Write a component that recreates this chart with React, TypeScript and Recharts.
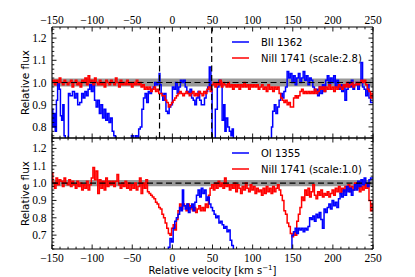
import React from 'react';
import { LineChart, Line, XAxis, YAxis, ReferenceArea, ReferenceLine, Legend } from 'recharts';

// ─── Data ──────────────────────────────────────────────────────────────────
// NiII 1741 grid: -150 … 250 km/s in 2 km/s bins
const NI_VEL = [
  -150, -148, -146, -144, -142, -140, -138, -136, -134, -132,
  -130, -128, -126, -124, -122, -120, -118, -116, -114, -112,
  -110, -108, -106, -104, -102, -100, -98, -96, -94, -92,
  -90, -88, -86, -84, -82, -80, -78, -76, -74, -72,
  -70, -68, -66, -64, -62, -60, -58, -56, -54, -52,
  -50, -48, -46, -44, -42, -40, -38, -36, -34, -32,
  -30, -28, -26, -24, -22, -20, -18, -16, -14, -12,
  -10, -8, -6, -4, -2, 0, 2, 4, 6, 8,
  10, 12, 14, 16, 18, 20, 22, 24, 26, 28,
  30, 32, 34, 36, 38, 40, 42, 44, 46, 48,
  50, 52, 54, 56, 58, 60, 62, 64, 66, 68,
  70, 72, 74, 76, 78, 80, 82, 84, 86, 88,
  90, 92, 94, 96, 98, 100, 102, 104, 106, 108,
  110, 112, 114, 116, 118, 120, 122, 124, 126, 128,
  130, 132, 134, 136, 138, 140, 142, 144, 146, 148,
  150, 152, 154, 156, 158, 160, 162, 164, 166, 168,
  170, 172, 174, 176, 178, 180, 182, 184, 186, 188,
  190, 192, 194, 196, 198, 200, 202, 204, 206, 208,
  210, 212, 214, 216, 218, 220, 222, 224, 226, 228,
  230, 232, 234, 236, 238, 240, 242, 244, 246, 248,
  250,
];

// NiII 1741, scaled by 2.8 (upper panel)
const NI_FLUX_28 = [
  1.00, 1.01, 0.99, 1.01, 1.00, 1.02, 1.00, 0.99, 1.01, 1.00,
  0.99, 1.00, 1.01, 0.98, 1.00, 1.01, 0.99, 1.00, 0.98, 1.01,
  1.00, 1.02, 0.99, 1.03, 1.00, 1.01, 0.99, 1.02, 1.00, 0.99,
  1.01, 0.99, 1.00, 0.98, 1.01, 1.00, 0.99, 1.01, 1.00, 0.99,
  1.02, 1.00, 0.98, 1.01, 0.99, 1.00, 0.99, 1.01, 0.99, 1.00,
  0.98, 1.00, 0.99, 1.01, 0.99, 1.00, 0.98, 0.99, 0.97, 0.98,
  0.97, 0.98, 0.96, 0.97, 0.98, 0.96, 0.97, 0.95, 0.95, 0.94,
  0.94, 0.92, 0.91, 0.89, 0.90, 0.91, 0.92, 0.93, 0.94, 0.95,
  0.96, 0.95, 0.94, 0.95, 0.96, 0.95, 0.94, 0.95, 0.96, 0.94,
  0.95, 0.94, 0.96, 0.95, 0.94, 0.96, 0.95, 0.97, 0.98, 0.96,
  0.99, 1.00, 0.98, 1.00, 0.99, 1.01, 0.98, 1.00, 0.99, 0.98,
  1.00, 0.98, 0.99, 0.97, 0.99, 0.98, 0.99, 0.97, 0.99, 0.98,
  1.00, 0.98, 0.99, 0.97, 0.99, 0.98, 0.99, 0.98, 0.99, 0.97,
  0.98, 0.99, 0.97, 0.98, 0.96, 0.99, 0.97, 0.98, 0.96, 0.98,
  0.97, 0.98, 0.95, 0.93, 0.92, 0.91, 0.92, 0.90, 0.91, 0.89,
  0.89, 0.93, 0.94, 0.93, 0.94, 0.96, 0.97, 0.95, 0.96, 0.95,
  0.96, 0.95, 0.96, 0.95, 0.97, 0.95, 0.96, 0.98, 0.97, 0.98,
  0.96, 0.98, 0.97, 0.99, 0.97, 0.98, 0.96, 0.98, 0.97, 0.99,
  0.98, 0.97, 0.99, 0.98, 1.00, 0.98, 0.99, 1.00, 0.98, 0.99,
  1.00, 0.99, 1.00, 1.01, 1.00, 1.01, 0.99, 0.97, 0.96, 0.93,
  0.95,
];

// NiII 1741, unscaled (lower panel)
const NI_FLUX_10 = [
  1.06, 1.00, 0.97, 1.03, 0.99, 1.02, 1.01, 0.98, 1.03, 1.00,
  0.99, 1.02, 0.98, 1.01, 0.99, 0.97, 1.01, 0.98, 1.00, 0.96,
  0.99, 0.97, 1.01, 0.96, 0.99, 1.03, 1.09, 1.02, 1.07, 0.94,
  1.02, 0.97, 1.01, 0.96, 1.03, 0.98, 1.01, 0.99, 1.01, 0.98,
  1.01, 1.05, 0.99, 0.97, 1.00, 0.98, 1.01, 0.97, 1.00, 0.96,
  0.99, 0.97, 1.00, 0.96, 0.98, 1.03, 0.94, 1.00, 0.97, 1.02,
  0.95, 0.94, 0.93, 0.92, 0.91, 0.89, 0.88, 0.86, 0.85, 0.82,
  0.80, 0.77, 0.74, 0.71, 0.70, 0.74, 0.76, 0.73, 0.79, 0.84,
  0.88, 0.85, 0.88, 0.87, 0.84, 0.88, 0.85, 0.87, 0.84, 0.86,
  0.83, 0.85, 0.87, 0.84, 0.86, 0.84, 0.88, 0.86, 0.93, 0.97,
  0.99, 0.96, 1.00, 0.97, 1.01, 0.98, 1.00, 0.97, 1.03, 0.98,
  0.99, 0.96, 0.99, 0.97, 1.00, 0.95, 0.99, 0.97, 0.94, 0.98,
  0.96, 1.00, 0.97, 0.95, 0.99, 0.96, 0.98, 0.94, 0.97, 0.95,
  0.96, 0.93, 0.97, 0.94, 0.98, 0.95, 0.97, 0.94, 0.98, 0.95,
  0.97, 0.99, 0.96, 0.93, 0.90, 0.84, 0.82, 0.77, 0.75, 0.71,
  0.69, 0.72, 0.70, 0.78, 0.82, 0.86, 0.92, 0.90, 0.96, 0.93,
  0.97, 0.92, 0.95, 0.99, 0.93, 0.91, 0.95, 0.93, 0.96, 0.92,
  0.94, 0.93, 0.95, 0.92, 0.94, 0.96, 0.93, 0.97, 0.95, 0.98,
  0.94, 0.97, 0.95, 0.98, 0.96, 0.99, 0.95, 0.98, 0.96, 1.00,
  0.97, 0.99, 0.95, 0.98, 0.96, 0.99, 0.97, 0.99, 0.90, 0.84,
  0.88,
];

// BII 1362 (upper panel); values under 0.75 run off the bottom of the panel
const BII_VEL = [
  -150, -148, -147, -145, -144, -142, -140, -139, -137, -136,
  -134, -133, -130, -129, -126, -123, -121, -119, -117, -114,
  -112, -110, -108, -106, -104, -102, -100, -98, -96, -94,
  -92, -90, -88, -86, -84, -82, -80, -78, -76, -74,
  -72, -70, -52, -50, -47, -45, -43, -41, -39, -37,
  -35, -33, -31, -29, -27, -25, -23, -21, -19, -17,
  -16, -15, -13, -11, -9, -7, -5, -3, -1, 1,
  3, 5, 7, 9, 11, 13, 15, 17, 19, 21,
  23, 25, 27, 29, 31, 33, 35, 37, 39, 41,
  43, 45, 47, 49, 50, 52, 55, 57, 59, 61,
  63, 65, 66, 68, 70, 72, 74, 75, 77, 123,
  124, 126, 128, 130, 132, 134, 136, 138, 140, 142,
  144, 146, 148, 150, 152, 154, 156, 158, 160, 162,
  164, 166, 168, 170, 172, 174, 176, 178, 180, 182,
  184, 186, 188, 190, 192, 194, 196, 198, 200, 202,
  204, 206, 208, 210, 212, 214, 216, 218, 220, 222,
  224, 226, 228, 230, 232, 234, 236, 238, 240, 242,
  244, 246, 248, 250,
];
const BII_FLUX = [
  0.88, 0.80, 0.86, 0.78, 0.92, 1.00, 0.97, 0.85, 0.83, 0.90,
  0.76, 0.70, 0.70, 0.95, 0.94, 0.96, 0.93, 0.95, 0.90, 0.91,
  0.95, 0.93, 0.96, 0.94, 0.97, 0.99, 0.96, 1.00, 0.92, 0.89,
  0.92, 0.86, 0.90, 0.84, 0.88, 0.83, 0.86, 0.82, 0.84, 0.78,
  0.76, 0.70, 0.70, 0.76, 0.74, 0.76, 0.70, 0.79, 0.80, 0.88,
  0.93, 0.95, 0.91, 0.96, 0.95, 0.97, 0.98, 1.00, 0.99, 1.00,
  1.04, 0.99, 0.95, 0.92, 0.95, 0.87, 0.86, 0.89, 0.90, 0.98,
  0.97, 1.00, 0.95, 0.98, 1.01, 1.00, 1.01, 0.98, 0.96, 0.95,
  0.97, 0.93, 0.92, 0.90, 0.93, 0.96, 0.92, 0.90, 0.90, 0.93,
  0.96, 0.98, 1.07, 0.97, 0.70, 0.70, 0.88, 0.98, 1.01, 0.99,
  0.83, 0.90, 0.78, 0.84, 0.80, 0.78, 0.76, 0.79, 0.70, 0.70,
  0.80, 0.87, 0.90, 0.86, 0.89, 0.92, 0.95, 0.93, 0.96, 0.98,
  1.05, 1.02, 1.04, 1.00, 1.03, 0.99, 1.02, 1.04, 1.00, 1.02,
  1.05, 1.01, 1.03, 0.99, 1.02, 1.01, 0.98, 0.96, 0.97, 0.94,
  0.98, 0.95, 0.99, 0.96, 1.01, 1.03, 0.99, 1.02, 1.00, 1.03,
  0.98, 1.01, 0.97, 0.99, 0.96, 0.99, 0.92, 0.97, 1.00, 0.98,
  1.01, 0.97, 0.99, 1.00, 0.97, 1.00, 1.09, 0.98, 0.97, 0.94,
  0.99, 0.93, 0.91, 0.91,
];

// OI 1355 (lower panel); values under 0.62 run off the bottom
const OI_VEL = [
  -8, -6, -4, -2, 0, 2, 4, 6, 8, 10,
  12, 13, 15, 17, 19, 21, 23, 25, 27, 29,
  31, 33, 35, 37, 39, 41, 43, 45, 47, 49,
  51, 53, 55, 57, 59, 61, 63, 65, 67, 69,
  71, 73, 75, 77, 148, 150, 152, 154, 156, 158,
  160, 162, 164, 166, 168, 170, 172, 174, 176, 178,
  180, 182, 184, 186, 188, 190, 192, 194, 196, 198,
  200, 202, 204, 206, 208, 210, 212, 214, 216, 218,
  220, 222, 224, 226, 228, 230, 232, 234, 236, 238,
  240, 242, 244, 246, 248, 250,
];
const OI_FLUX = [
  0.58, 0.60, 0.63, 0.68, 0.66, 0.74, 0.78, 0.80, 0.82, 0.86,
  0.84, 0.96, 0.87, 0.85, 0.88, 0.83, 0.86, 0.88, 0.84, 0.89,
  0.93, 0.96, 0.92, 0.97, 0.94, 0.96, 0.90, 0.92, 0.88, 0.86,
  0.84, 0.82, 0.80, 0.81, 0.77, 0.78, 0.76, 0.74, 0.75, 0.72,
  0.73, 0.67, 0.64, 0.58, 0.58, 0.70, 0.72, 0.74, 0.71, 0.74,
  0.73, 0.74, 0.72, 0.74, 0.73, 0.75, 0.80, 0.79, 0.81, 0.78,
  0.82, 0.80, 0.83, 0.79, 0.74, 0.85, 0.83, 0.86, 0.88, 0.85,
  0.90, 0.87, 0.89, 0.86, 0.91, 0.94, 0.92, 0.96, 0.93, 0.98,
  0.95, 0.97, 0.93, 0.96, 0.99, 0.96, 1.01, 0.98, 1.02, 0.99,
  1.03, 1.00, 0.98, 1.02, 1.03, 1.03,
];

// Ticks
const X_MAJOR = [-150, -100, -50, 0, 50, 100, 150, 200, 250];
const Y_MAJOR_TOP = [0.8, 0.9, 1.0, 1.1, 1.2];
const Y_MAJOR_BOTTOM = [0.7, 0.8, 0.9, 1.0, 1.1, 1.2];
const VLINES = [-16, 49];

const BLUE = '#0000ff';
const RED = '#ff0000';
const FONT_SERIF = '"Liberation Serif", "DejaVu Serif", serif';
const FONT_SANS = '"DejaVu Sans", sans-serif';

const range = (from: number, to: number, step: number) => {
  const out: number[] = [];
  for (let v = from; v <= to + step / 2; v += step) out.push(Math.round(v * 100) / 100);
  return out;
};
const X_MINOR = range(-150, 250, 10);
const Y_MINOR_TOP = range(0.76, 1.24, 0.02);
const Y_MINOR_BOTTOM = range(0.62, 1.26, 0.02);

const zip = (v: number[], f: number[]) => v.map((x, i) => ({ v: x, f: f[i] }));

const isOn = (vals: number[], v: number) => vals.some((m) => Math.abs(m - v) < 1e-6);
const fmtX = (v: number) => (v < 0 ? `\u2212${Math.abs(v)}` : `${v}`);

// ─── Tick renderers (inward ticks, matplotlib style) ──────────────────────
const xTick = (side: 'top' | 'bottom', labels: boolean) => (props: any) => {
  const { x, y, payload } = props;
  const major = isOn(X_MAJOR, payload.value);
  const len = major ? 4.5 : 2.3;
  const dir = side === 'top' ? 1 : -1;
  return (
    <g>
      <line x1={x} x2={x} y1={y} y2={y + dir * len} stroke="#000" strokeWidth={0.9} />
      {labels && major && (
        <text
          x={x}
          y={side === 'top' ? y - 3.5 : y + 12.5}
          textAnchor="middle"
          fontFamily={FONT_SERIF}
          fontSize={11.5}
          fill="#000"
        >
          {fmtX(payload.value)}
        </text>
      )}
    </g>
  );
};

const yTick = (side: 'left' | 'right', majors: number[]) => (props: any) => {
  const { x, y, payload } = props;
  const major = isOn(majors, payload.value);
  const len = major ? 4.5 : 2.3;
  const dir = side === 'left' ? 1 : -1;
  return (
    <g>
      <line x1={x} x2={x + dir * len} y1={y} y2={y} stroke="#000" strokeWidth={0.9} />
      {side === 'left' && major && (
        <text x={x - 5.5} y={y + 4} textAnchor="end" fontFamily={FONT_SERIF} fontSize={11.5} fill="#000">
          {payload.value.toFixed(1)}
        </text>
      )}
    </g>
  );
};

const FluxTitle = (props: any) => {
  const { viewBox } = props;
  const cx = viewBox.x + viewBox.width - 23;
  const cy = viewBox.y + viewBox.height / 2;
  return (
    <text
      x={cx}
      y={cy}
      transform={`rotate(-90 ${cx} ${cy})`}
      textAnchor="middle"
      fontFamily={FONT_SANS}
      fontSize={10.5}
      fill="#000"
    >
      Relative flux
    </text>
  );
};

const VelocityTitle = (props: any) => {
  const { viewBox } = props;
  return (
    <text
      x={viewBox.x + viewBox.width / 2}
      y={viewBox.y + 25}
      textAnchor="middle"
      fontFamily={FONT_SANS}
      fontSize={10}
      fill="#000"
    >
      Relative velocity [km s
      <tspan dy={-4} fontSize={7}>{'\u22121'}</tspan>
      <tspan dy={4}>]</tspan>
    </text>
  );
};

interface LegendItem {
  name: string;
  color: string;
}

const LegendBox = ({ items }: { items: LegendItem[] }) => (
  <div style={{ fontFamily: FONT_SANS, fontSize: 10, color: '#000' }}>
    {items.map((it) => (
      <div key={it.name} style={{ display: 'flex', alignItems: 'center', height: 16 }}>
        <svg width={17} height={16} style={{ display: 'block' }}>
          <line x1={0} x2={17} y1={8} y2={8} stroke={it.color} strokeWidth={1.5} />
        </svg>
        <span style={{ marginLeft: 12, whiteSpace: 'nowrap' }}>{it.name}</span>
      </div>
    ))}
  </div>
);

// ─── Panel ─────────────────────────────────────────────────────────────────
interface PanelProps {
  margin: { top: number; right: number; bottom: number; left: number };
  yDomain: [number, number];
  yMajor: number[];
  yMinor: number[];
  series: { name: string; color: string; data: { v: number; f: number }[] }[];
  legend: LegendItem[];
  legendTop: number;
  topLabels: boolean;
  vlines: number[];
}

// axes are 1px thick so they still render; the margins below account for that
const Panel = ({ margin, yDomain, yMajor, yMinor, series, legend, legendTop, topLabels, vlines }: PanelProps) => (
  <LineChart width={415} height={277} margin={margin}>
    <XAxis
      xAxisId="b"
      type="number"
      dataKey="v"
      orientation="bottom"
      domain={[-150, 250]}
      allowDataOverflow
      ticks={X_MINOR}
      interval={0}
      height={1}
      tickSize={0}
      tickMargin={0}
      tickLine={false}
      axisLine={{ stroke: '#000', strokeWidth: 1.1 }}
      tick={xTick('bottom', !topLabels)}
      label={topLabels ? undefined : <VelocityTitle />}
    />
    <XAxis
      xAxisId="t"
      type="number"
      dataKey="v"
      orientation="top"
      domain={[-150, 250]}
      allowDataOverflow
      ticks={X_MINOR}
      interval={0}
      height={1}
      tickSize={0}
      tickMargin={0}
      tickLine={false}
      axisLine={{ stroke: '#000', strokeWidth: 1.1 }}
      tick={xTick('top', topLabels)}
    />
    <YAxis
      yAxisId="l"
      type="number"
      orientation="left"
      domain={yDomain}
      allowDataOverflow
      ticks={yMinor}
      interval={0}
      width={1}
      tickSize={0}
      tickMargin={0}
      tickLine={false}
      axisLine={{ stroke: '#000', strokeWidth: 1.1 }}
      tick={yTick('left', yMajor)}
      label={<FluxTitle />}
    />
    <YAxis
      yAxisId="r"
      type="number"
      orientation="right"
      domain={yDomain}
      allowDataOverflow
      ticks={yMinor}
      interval={0}
      width={1}
      tickSize={0}
      tickMargin={0}
      tickLine={false}
      axisLine={{ stroke: '#000', strokeWidth: 1.1 }}
      tick={yTick('right', yMajor)}
    />
    <ReferenceArea xAxisId="b" yAxisId="l" y1={0.982} y2={1.018} fill="#808080" fillOpacity={0.8} stroke="none" />
    {series.map((s) => (
      <Line
        key={s.name}
        xAxisId="b"
        yAxisId="l"
        data={s.data}
        dataKey="f"
        name={s.name}
        type="step"
        stroke={s.color}
        strokeWidth={1.5}
        dot={false}
        activeDot={false}
        isAnimationActive={false}
      />
    ))}
    <ReferenceLine xAxisId="b" yAxisId="l" y={1} stroke="#000" strokeWidth={1.2} strokeDasharray="6 3.5" />
    {vlines.map((v) => (
      <ReferenceLine key={v} xAxisId="b" yAxisId="l" x={v} stroke="#000" strokeWidth={1.2} strokeDasharray="6 3.5" />
    ))}
    <Legend
      layout="vertical"
      align="center"
      verticalAlign="middle"
      content={() => <LegendBox items={legend} />}
      wrapperStyle={{ position: 'absolute', left: 232, top: legendTop, width: 'auto', height: 'auto' }}
    />
  </LineChart>
);

export default function App() {
  const bii = zip(BII_VEL, BII_FLUX);
  const ni28 = zip(NI_VEL, NI_FLUX_28);
  const ni10 = zip(NI_VEL, NI_FLUX_10);
  const oi = zip(OI_VEL, OI_FLUX);

  return (
    <div style={{ position: 'absolute', left: 0, top: 0, width: 415, height: 277, background: '#fff' }}>
      <div style={{ position: 'absolute', left: 0, top: 0 }}>
        <Panel
          margin={{ top: 26, right: 41, bottom: 138, left: 51 }}
          yDomain={[0.75, 1.25]}
          yMajor={Y_MAJOR_TOP}
          yMinor={Y_MINOR_TOP}
          series={[
            { name: 'BII 1362', color: BLUE, data: bii },
            { name: 'NiII 1741 (scale:2.8)', color: RED, data: ni28 },
          ]}
          legend={[
            { name: 'BII 1362', color: BLUE },
            { name: 'NiII 1741 (scale:2.8)', color: RED },
          ]}
          legendTop={34}
          topLabels
          vlines={VLINES}
        />
      </div>
      <div style={{ position: 'absolute', left: 0, top: 0 }}>
        <Panel
          margin={{ top: 137, right: 41, bottom: 27, left: 51 }}
          yDomain={[0.62, 1.26]}
          yMajor={Y_MAJOR_BOTTOM}
          yMinor={Y_MINOR_BOTTOM}
          series={[
            { name: 'NiII 1741 (scale:1.0)', color: RED, data: ni10 },
            { name: 'OI 1355', color: BLUE, data: oi },
          ]}
          legend={[
            { name: 'OI 1355', color: BLUE },
            { name: 'NiII 1741 (scale:1.0)', color: RED },
          ]}
          legendTop={145}
          topLabels={false}
          vlines={[]}
        />
      </div>
    </div>
  );
}
